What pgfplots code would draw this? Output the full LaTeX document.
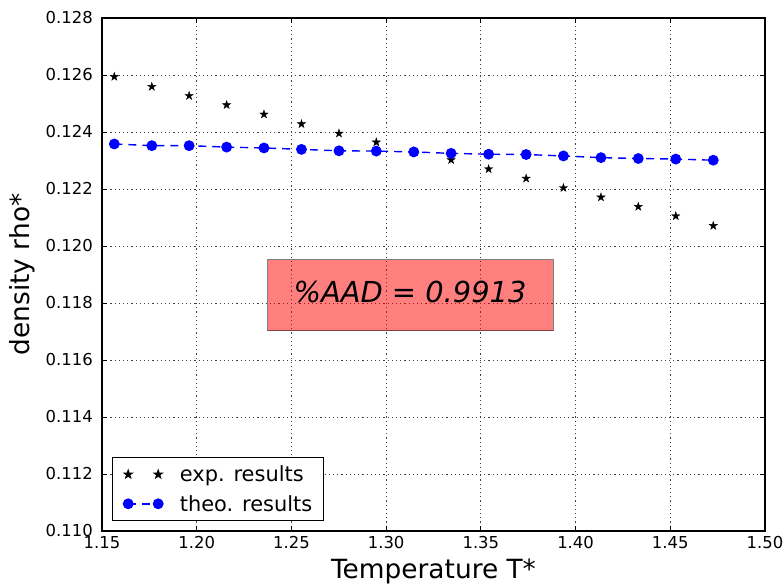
\documentclass[border=0pt]{standalone}
\usepackage{fontspec}
\setmainfont{DejaVu Sans}
\usepackage{pgfplots}
\pgfplotsset{compat=1.18}

% filled five-pointed star, like matplotlib's '*'
\pgfdeclareplotmark{fstar}{%
  \pgfpathmoveto{\pgfpointpolar{90}{\pgfplotmarksize}}%
  \pgfpathlineto{\pgfpointpolar{126}{0.382\pgfplotmarksize}}%
  \pgfpathlineto{\pgfpointpolar{162}{\pgfplotmarksize}}%
  \pgfpathlineto{\pgfpointpolar{198}{0.382\pgfplotmarksize}}%
  \pgfpathlineto{\pgfpointpolar{234}{\pgfplotmarksize}}%
  \pgfpathlineto{\pgfpointpolar{270}{0.382\pgfplotmarksize}}%
  \pgfpathlineto{\pgfpointpolar{306}{\pgfplotmarksize}}%
  \pgfpathlineto{\pgfpointpolar{342}{0.382\pgfplotmarksize}}%
  \pgfpathlineto{\pgfpointpolar{18}{\pgfplotmarksize}}%
  \pgfpathlineto{\pgfpointpolar{54}{0.382\pgfplotmarksize}}%
  \pgfpathclose
  \pgfusepathqfillstroke
}
% two markers in the legend, as matplotlib does
\pgfplotsset{twomarks/.style={legend image code/.code={%
  \draw[##1] plot coordinates {(0bp,0bp) (30bp,0bp)};}}}

\begin{document}
\begin{tikzpicture}
\begin{axis}[
  scale only axis,
  width=663bp, height=513bp,
  xmin=1.15, xmax=1.50,
  ymin=0.110, ymax=0.128,
  xtick={1.15,1.20,1.25,1.30,1.35,1.40,1.45,1.50},
  ytick={0.110,0.112,0.114,0.116,0.118,0.120,0.122,0.124,0.126,0.128},
  scaled x ticks=false, scaled y ticks=false,
  /pgf/number format/assume math mode=true,
  xticklabel style={/pgf/number format/.cd, fixed, fixed zerofill, precision=2, /tikz/.cd,
    font=\fontsize{16.5}{18}\selectfont, anchor=north, inner sep=0pt, yshift=-5bp},
  yticklabel style={/pgf/number format/.cd, fixed, fixed zerofill, precision=3, /tikz/.cd,
    font=\fontsize{16.5}{18}\selectfont, anchor=east, inner sep=0pt, xshift=-9bp},
  tick align=inside,
  major tick length=5bp,
  every tick/.style={black, line width=0.9bp},
  axis line style={line width=1.3bp},
  grid=major,
  major grid style={black!75, line width=0.8bp, dash pattern=on 1.2bp off 3bp},
  xlabel={Temperature T*},
  ylabel={density rho*},
  xlabel style={at={(axis description cs:0.5,0)}, anchor=base, inner sep=0pt,
    yshift=-47bp, font=\fontsize{26.5}{30}\selectfont},
  ylabel style={at={([xshift=-72bp]axis description cs:0,0.5)}, anchor=base,
    inner sep=0pt, font=\fontsize{26.5}{30}\selectfont},
  legend style={at={(axis description cs:0,0)}, anchor=south west,
    xshift=10bp, yshift=10bp, draw=black, line width=1bp, fill=white,
    font=\fontsize{21}{24}\selectfont, row sep=12bp,
    inner xsep=11bp, inner ysep=8bp,
    nodes={inner sep=0pt},
    /tikz/every odd column/.append style={column sep=17bp}},
  legend cell align=left,
]
\addplot[only marks, mark=fstar, mark size=4.3bp, black, twomarks]
  coordinates {
  (1.1565,0.12594) (1.1763,0.12559) (1.1960,0.12527) (1.2158,0.12495)
  (1.2355,0.12462) (1.2553,0.12428) (1.2751,0.12395) (1.2948,0.12364)
  (1.3146,0.12333) (1.3343,0.12302) (1.3541,0.12270) (1.3739,0.12237)
  (1.3936,0.12204) (1.4134,0.12171) (1.4331,0.12138) (1.4529,0.12105)
  (1.4727,0.12071)};
\addlegendentry{exp. results}

\addplot[blue, line width=1.4bp, dash pattern=on 8bp off 6bp,
  mark=*, mark size=4.7bp, mark options={solid, fill=blue, draw=blue}, twomarks]
  coordinates {
  (1.1565,0.12358) (1.1763,0.12352) (1.1960,0.12352) (1.2158,0.12347)
  (1.2355,0.12344) (1.2553,0.12339) (1.2751,0.12334) (1.2948,0.12333)
  (1.3146,0.12330) (1.3343,0.12325) (1.3541,0.12322) (1.3739,0.12321)
  (1.3936,0.12316) (1.4134,0.12310) (1.4331,0.12307) (1.4529,0.12305)
  (1.4727,0.12301)};
\addlegendentry{theo. results}

\draw[fill=red, fill opacity=0.5, draw=black, draw opacity=0.5, line width=1bp]
  (axis cs:1.2376,0.11951) rectangle (axis cs:1.3881,0.11702);
\node[anchor=base, inner sep=0pt, font=\fontsize{29}{33}\selectfont\itshape]
  at (axis cs:1.3126,0.11801) {\%AAD = 0.9913};
\end{axis}
\pgfresetboundingbox
\path ([shift={(-102bp,-55bp)}]current axis.south west)
  rectangle ([shift={(18bp,18bp)}]current axis.north east);
\end{tikzpicture}
\end{document}
